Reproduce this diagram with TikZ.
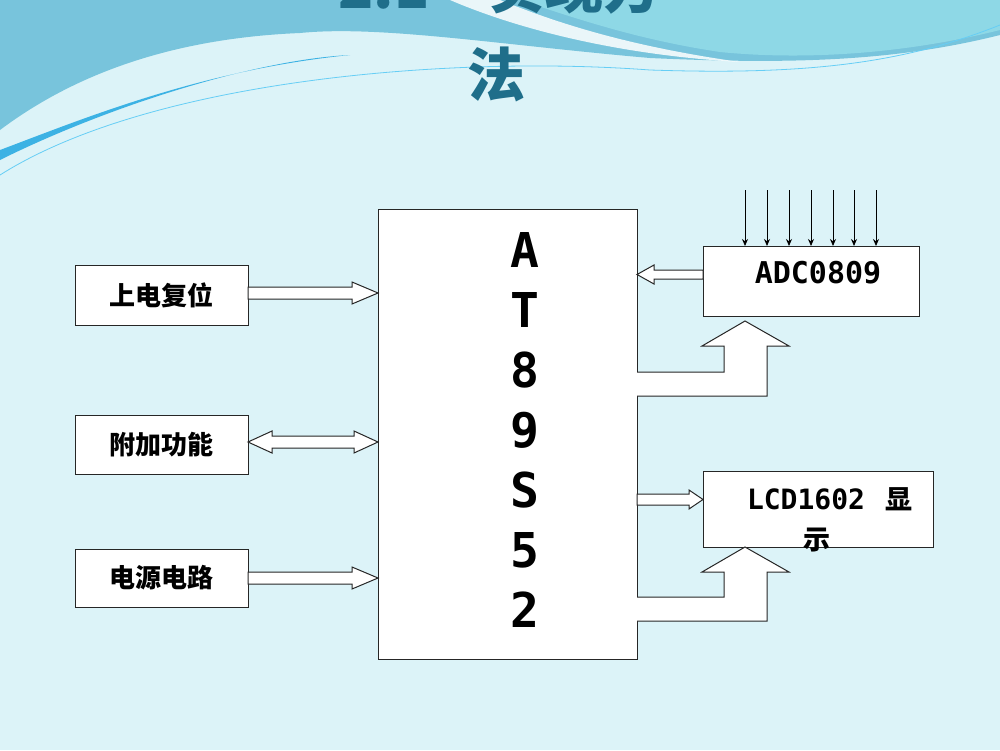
\documentclass[tikz,border=0pt]{standalone}
\usepackage{fontspec}
\setmonofont{DejaVu Sans Mono}
\newfontfamily\cjk{Noto Sans CJK SC}
\usetikzlibrary{arrows.meta}
\definecolor{bg}{HTML}{DCF3F8}
\definecolor{ttl}{HTML}{1F6E8A}
\definecolor{wave}{HTML}{78C4DC}
\definecolor{wave2}{HTML}{8ED8E6}
\tikzset{
  blk/.style={draw=black!85, line width=1pt, fill=white},
  hol/.style={draw=black!85, line width=1pt, fill=white, line join=miter},
  inarr/.style={draw=black, line width=0.8pt, -{Stealth[length=7pt,width=6pt]}},
}
\begin{document}
\begin{tikzpicture}[x=1pt,y=-1pt]
\useasboundingbox (0,0) rectangle (1000,750);
\fill[bg] (0,0) rectangle (1000,750);
% top waves
\fill[wave] (0,0) -- (1000,0) -- (1000,35) .. controls (900,60) and (800,65) .. (650,58)
  .. controls (500,45) and (380,25) .. (300,33) .. controls (180,38) and (80,70) .. (0,130) -- cycle;
\fill[wave2] (520,0) -- (1000,0) -- (1000,30) .. controls (900,55) and (800,60) .. (720,52) .. controls (640,40) and (580,20) .. cycle;
\fill[white, opacity=0.85] (450,0) .. controls (520,30) and (620,55) .. (740,62) .. controls (620,45) and (550,20) .. (500,0) -- cycle;
\fill[cyan!60!wave] (0,160) .. controls (100,110) and (250,60) .. (350,55) .. controls (200,70) and (80,120) .. (0,150) -- cycle;
\draw[white!40!cyan, line width=0.8pt] (0,175) .. controls (150,80) and (450,55) .. (650,70) .. controls (800,75) and (900,65) .. (1000,25);
% title
\node[text=ttl, font=\cjk\bfseries\fontsize{58}{60}\selectfont, anchor=base] (t1) at (500,8) {2.1\quad 实现方};
\node[text=ttl, font=\cjk\bfseries\fontsize{58}{60}\selectfont] (t2) at (496,74) {法};
% blocks
\node[blk, minimum width=173, minimum height=60, font=\cjk\bfseries\fontsize{26}{28}\selectfont] (b1) at (161.5,295) {上电复位};
\node[blk, minimum width=173, minimum height=59, font=\cjk\bfseries\fontsize{26}{28}\selectfont] (b2) at (161.5,444.5) {附加功能};
\node[blk, minimum width=173, minimum height=58, font=\cjk\bfseries\fontsize{26}{28}\selectfont] (b3) at (161.5,578) {电源电路};
\node[blk, minimum width=259, minimum height=450] (mcu) at (507.5,434) {};
\foreach \c [count=\i from 0] in {A,T,8,9,S,5,2}
  \node[font=\ttfamily\bfseries\fontsize{48}{50}\selectfont] (m\i) at (525,250+60*\i) {\c};
\node[blk, minimum width=216, minimum height=70] (adc) at (811,281) {};
\node[font=\ttfamily\bfseries\fontsize{30}{32}\selectfont] (adct) at (818,273) {ADC0809};
\node[blk, minimum width=230, minimum height=76] (lcd) at (818,509) {};
\node[font=\ttfamily\bfseries\fontsize{28}{30}\selectfont] (lcdt) at (806,499) {LCD1602};
\node[font=\cjk\bfseries\fontsize{27}{29}\selectfont] (lcdx) at (899,499) {显};
\node[font=\cjk\bfseries\fontsize{27}{29}\selectfont] (lcdy) at (817,540) {示};
% input arrows
\foreach \x in {745,767,789,811,833,854,876}
  \draw[inarr] (\x,190) -- (\x,246);
% hollow right arrows
\draw[hol] (248,287) -- (352,287) -- (352,282) -- (378,293) -- (352,304) -- (352,299) -- (248,299) -- cycle;
\draw[hol] (248,572) -- (352,572) -- (352,567) -- (378,578) -- (352,589) -- (352,584) -- (248,584) -- cycle;
% double arrow
\draw[hol] (248,442) -- (272,431) -- (272,436) -- (354,436) -- (354,431) -- (378,442) -- (354,453) -- (354,448) -- (272,448) -- (272,453) -- cycle;
% adc -> mcu
\draw[hol] (703,270) -- (654,270) -- (654,265) -- (637,274.5) -- (654,284) -- (654,279) -- (703,279) -- cycle;
% mcu -> lcd
\draw[hol] (637,494) -- (689,494) -- (689,490) -- (703,499.5) -- (689,509) -- (689,505) -- (637,505) -- cycle;
% big L arrows
\draw[hol] (637,372) -- (724,372) -- (724,346) -- (702,346) -- (745,321) -- (789,346) -- (767,346) -- (767,396) -- (637,396);
\draw[hol] (637,597) -- (724,597) -- (724,572) -- (702,572) -- (745,547) -- (789,572) -- (767,572) -- (767,621) -- (637,621);
\end{tikzpicture}
\end{document}
